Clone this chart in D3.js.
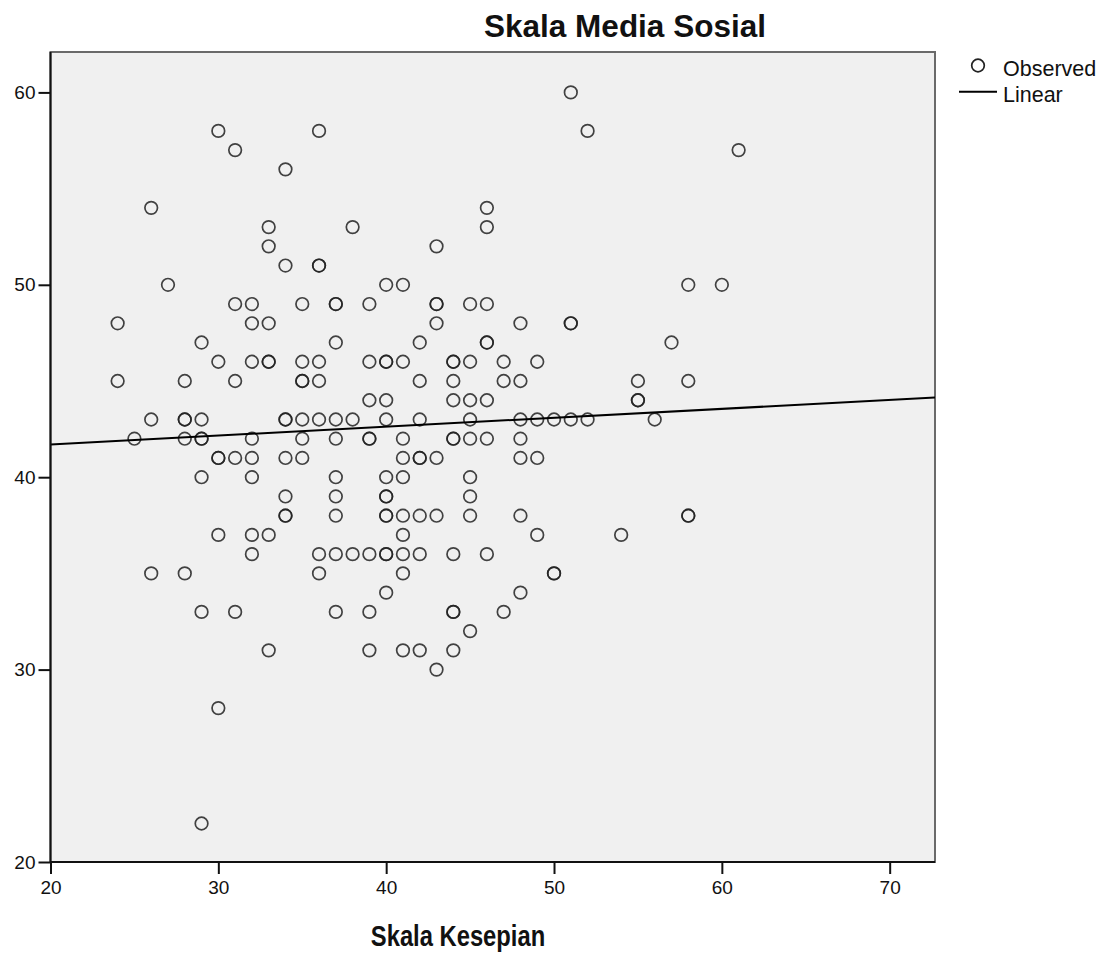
<!DOCTYPE html>
<html>
<head>
<meta charset="utf-8">
<script src="https://cdn.jsdelivr.net/npm/d3@7"></script>
<style>
  html, body { margin: 0; padding: 0; background: #fff; }
  svg { display: block; }
  .tick-label { font-family: "Liberation Sans", Arial, sans-serif; font-size: 19px; fill: #111; }
</style>
</head>
<body>
<svg id="chart" width="1109" height="955"></svg>
<script>
// ---- Data ----
const chartTitle = "Skala Media Sosial";
const xAxisTitle = "Skala Kesepian";
const legendLabels = ["Observed", "Linear"];
const xTicks = [20, 30, 40, 50, 60, 70];
const yTicks = [20, 30, 40, 50, 60];
const xDomain = [20, 72.7];
const yDomain = [20, 62.1];

// Observed points grouped by Skala Media Sosial value (y): list of Skala Kesepian values (x)
const yLevels = [60, 58, 57, 56, 54, 53, 52, 51, 50, 49, 48, 47, 46, 45, 44, 43, 42, 41, 40, 39, 38, 37, 36, 35, 34, 33, 32, 31, 30, 28, 22];
const xByLevel = [
  [51],
  [30, 36, 52],
  [31, 61],
  [34],
  [26, 46],
  [33, 38, 46],
  [33, 43],
  [34, 36, 36],
  [27, 40, 41, 58, 60],
  [31, 32, 35, 37, 37, 39, 43, 43, 45, 46],
  [24, 32, 33, 43, 48, 51, 51],
  [29, 37, 42, 46, 46, 57],
  [30, 32, 33, 33, 35, 36, 39, 40, 40, 41, 44, 44, 45, 47, 49],
  [24, 28, 31, 35, 35, 36, 42, 44, 47, 48, 55, 58],
  [39, 40, 44, 45, 46, 55, 55],
  [26, 28, 28, 29, 34, 34, 35, 36, 37, 38, 40, 42, 45, 48, 49, 50, 51, 52, 56],
  [25, 28, 29, 29, 32, 35, 37, 39, 39, 41, 44, 44, 45, 46, 48],
  [30, 30, 31, 32, 34, 35, 41, 42, 42, 43, 48, 49],
  [29, 32, 37, 40, 41, 45],
  [34, 37, 40, 40, 45],
  [34, 34, 37, 40, 40, 41, 42, 43, 45, 48, 58, 58],
  [30, 32, 33, 41, 49, 54],
  [32, 36, 37, 38, 39, 40, 40, 41, 42, 44, 46],
  [26, 28, 36, 41, 50, 50],
  [40, 48],
  [29, 31, 37, 39, 44, 44, 47],
  [45],
  [33, 39, 41, 42, 44],
  [43],
  [30],
  [29]
];

// Linear fit (value at x = 20 and x = 72.7)
const fitX = [20, 72.7];
const fitY = [41.7, 44.14];

// ---- Build point table ----
const points = [];
yLevels.forEach((yv, i) => xByLevel[i].forEach(xv => points.push({ x: xv, y: yv })));

// ---- Layout ----
const svg = d3.select("#chart");
const plot = { left: 50.5, right: 935, top: 52, bottom: 862 };
const x = d3.scaleLinear().domain(xDomain).range([plot.left, plot.right]);
const y = d3.scaleLinear().domain(yDomain).range([plot.bottom, plot.top]);

// Plot background and frame
svg.append("rect")
  .attr("x", plot.left).attr("y", plot.top)
  .attr("width", plot.right - plot.left).attr("height", plot.bottom - plot.top)
  .attr("fill", "#f0f0f0")
  .attr("stroke", "#6a6a6a").attr("stroke-width", 2);

// Clip
svg.append("clipPath").attr("id", "clip").append("rect")
  .attr("x", plot.left).attr("y", plot.top)
  .attr("width", plot.right - plot.left).attr("height", plot.bottom - plot.top);

// Points
svg.append("g").attr("clip-path", "url(#clip)")
  .selectAll("circle").data(points).join("circle")
  .attr("cx", d => x(d.x)).attr("cy", d => y(d.y))
  .attr("r", 6.3)
  .attr("fill", "none")
  .attr("stroke", "#222")
  .attr("stroke-width", 1.7)
  .attr("stroke-opacity", 0.85);

// Fit line
svg.append("g").attr("clip-path", "url(#clip)")
  .append("line")
  .attr("x1", x(fitX[0])).attr("y1", y(fitY[0]))
  .attr("x2", x(fitX[1])).attr("y2", y(fitY[1]))
  .attr("stroke", "#000").attr("stroke-width", 2);

// Axes
const xAxis = d3.axisBottom(x).tickValues(xTicks).tickSize(12).tickPadding(7).tickFormat(d3.format("d"));
const yAxis = d3.axisLeft(y).tickValues(yTicks).tickSize(12).tickPadding(3).tickFormat(d3.format("d"));

const gx = svg.append("g").attr("transform", `translate(0,${plot.bottom})`).call(xAxis);
const gy = svg.append("g").attr("transform", `translate(${plot.left},0)`).call(yAxis);
[gx, gy].forEach(g => {
  g.select(".domain").remove();
  g.selectAll(".tick line").attr("stroke", "#111").attr("stroke-width", 2);
  g.selectAll(".tick text").attr("class", "tick-label").attr("fill", "#111");
});
// Axis lines (left and bottom, black)
svg.append("line").attr("x1", plot.left).attr("x2", plot.right)
  .attr("y1", plot.bottom).attr("y2", plot.bottom)
  .attr("stroke", "#111").attr("stroke-width", 2);
svg.append("line").attr("x1", plot.left).attr("x2", plot.left)
  .attr("y1", plot.top).attr("y2", plot.bottom)
  .attr("stroke", "#111").attr("stroke-width", 2);

// Title
svg.append("text")
  .attr("x", 625).attr("y", 37)
  .attr("text-anchor", "middle")
  .attr("font-family", "Liberation Sans, Arial, sans-serif")
  .attr("font-weight", "bold").attr("font-size", 31.5)
  .attr("fill", "#111")
  .text(chartTitle);

// X axis title (narrow bold look)
svg.append("text")
  .attr("transform", "translate(458,946) scale(0.82,1)")
  .attr("text-anchor", "middle")
  .attr("font-family", "Liberation Sans, Arial, sans-serif")
  .attr("font-weight", "bold").attr("font-size", 29)
  .attr("fill", "#111")
  .text(xAxisTitle);

// Legend
const lg = svg.append("g");
lg.append("circle").attr("cx", 978).attr("cy", 65.5).attr("r", 6.3)
  .attr("fill", "none").attr("stroke", "#222").attr("stroke-width", 1.7);
lg.append("line").attr("x1", 959).attr("x2", 997).attr("y1", 91.7).attr("y2", 91.7)
  .attr("stroke", "#000").attr("stroke-width", 2);
lg.selectAll("text").data(legendLabels).join("text")
  .attr("x", 1003).attr("y", (d, i) => 75.5 + i * 26)
  .attr("font-family", "Liberation Sans, Arial, sans-serif")
  .attr("font-size", 21.5).attr("fill", "#111")
  .text(d => d);
</script>
</body>
</html>
